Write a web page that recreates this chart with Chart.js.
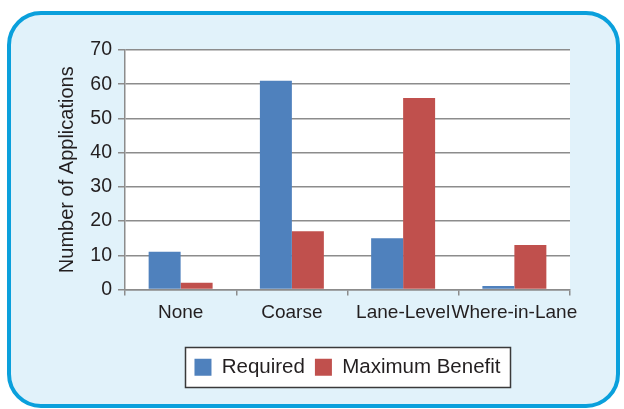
<!DOCTYPE html>
<html><head><meta charset="utf-8">
<script src="https://cdn.jsdelivr.net/npm/chart.js@4.4.0/dist/chart.umd.min.js"></script>
<style>html,body{margin:0;padding:0;background:#fff;overflow:hidden}#wrap{width:624px;height:409px}</style>
</head><body><div id="wrap"><canvas id="c" width="624" height="409"></canvas></div>
<script>
const categories = ['None', 'Coarse', 'Lane-Level', 'Where-in-Lane'];
const requiredValues = [11, 61, 15, 1];
const maximumBenefitValues = [2, 17, 56, 13];
const yTicks = [0, 10, 20, 30, 40, 50, 60, 70];
const seriesNames = ['Required', 'Maximum Benefit'];
const yTitle = 'Number of Applications';

const FONT = "'Liberation Sans', Arial, Helvetica, sans-serif";
const TEXT = '#231f20';
const GRID = '#8c8c8c';

const backgroundPlugin = {
  id: 'bg',
  beforeDraw(chart) {
    const ctx = chart.ctx;
    ctx.save();
    ctx.fillStyle = '#ffffff';
    ctx.fillRect(0, 0, chart.width, chart.height);
    const x = 9, y = 13, w = 618 - 9, h = 406 - 13, r = 32;
    ctx.beginPath();
    ctx.moveTo(x + r, y);
    ctx.lineTo(x + w - r, y);
    ctx.arcTo(x + w, y, x + w, y + r, r);
    ctx.lineTo(x + w, y + h - r);
    ctx.arcTo(x + w, y + h, x + w - r, y + h, r);
    ctx.lineTo(x + r, y + h);
    ctx.arcTo(x, y + h, x, y + h - r, r);
    ctx.lineTo(x, y + r);
    ctx.arcTo(x, y, x + r, y, r);
    ctx.closePath();
    ctx.fillStyle = '#e1f2fa';
    ctx.fill();
    ctx.lineWidth = 4;
    ctx.strokeStyle = '#0aa0dc';
    ctx.stroke();
    const a = chart.chartArea;
    ctx.fillStyle = '#ffffff';
    ctx.fillRect(a.left, a.top, a.right - a.left, a.bottom - a.top);
    const hb = chart.legend && chart.legend.legendHitBoxes;
    if (hb && hb.length) {
      let minL = Infinity, maxR = -Infinity;
      hb.forEach(b => { minL = Math.min(minL, b.left); maxR = Math.max(maxR, b.left + b.width); });
      const cy = hb[0].top + hb[0].height / 2;
      const bx = Math.round(minL - 9) + 0.5, by = Math.round(cy - 20) + 0.5;
      const bw = Math.round(maxR - minL + 19), bh = 40;
      ctx.fillStyle = '#ffffff';
      ctx.fillRect(bx, by, bw, bh);
      ctx.lineWidth = 1.5;
      ctx.strokeStyle = '#3a3a3a';
      ctx.strokeRect(bx, by, bw, bh);
    }
    ctx.restore();
  }
};

new Chart(document.getElementById('c'), {
  type: 'bar',
  data: {
    labels: categories,
    datasets: [
      { label: seriesNames[0], data: requiredValues, backgroundColor: '#4f81bd', borderWidth: 0 },
      { label: seriesNames[1], data: maximumBenefitValues, backgroundColor: '#c0504d', borderWidth: 0 }
    ]
  },
  options: {
    responsive: false,
    animation: false,
    devicePixelRatio: 1,
    layout: { padding: { left: 55, right: 54, top: 50, bottom: 21.5 } },
    datasets: { bar: { categoryPercentage: 0.575, barPercentage: 1 } },
    plugins: {
      tooltip: { enabled: false },
      legend: {
        position: 'bottom',
        fullSize: false,
        labels: {
          boxWidth: 17, boxHeight: 17, padding: 10, color: TEXT,
          font: { family: FONT, size: 20.5 }
        }
      }
    },
    scales: {
      x: {
        afterFit(s) { s.height = 57.5; },
        grid: { display: true, drawOnChartArea: false, drawTicks: true, tickLength: 6, color: GRID, lineWidth: 1.5, offset: true },
        border: { display: true, color: GRID, width: 1.5 },
        ticks: { color: TEXT, font: { family: FONT, size: 19 }, padding: 6, maxRotation: 0, autoSkip: false }
      },
      y: {
        min: 0, max: 70,
        afterFit(s) { s.width = 70; },
        afterBuildTicks(s) { s.ticks = yTicks.map(v => ({ value: v })); },
        grid: { color: GRID, lineWidth: 1.5, drawTicks: true, tickLength: 7 },
        border: { display: true, color: GRID, width: 1.5 },
        ticks: { color: TEXT, font: { family: FONT, size: 19.5 }, padding: 6 },
        title: { display: true, text: yTitle, color: TEXT, font: { family: FONT, size: 20 }, padding: 0 }
      }
    }
  },
  plugins: [backgroundPlugin]
});
</script>
</body></html>
